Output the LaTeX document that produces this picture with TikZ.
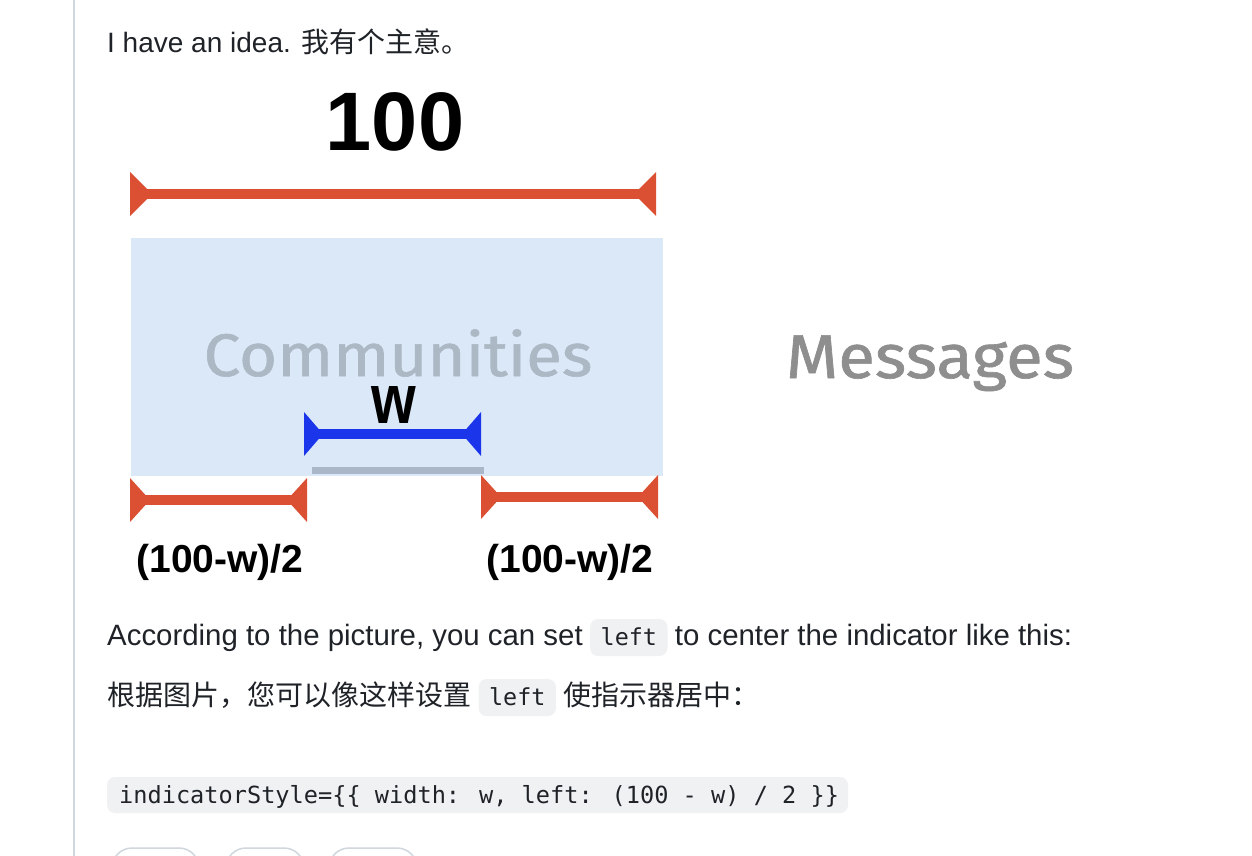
\documentclass[tikz,border=0pt]{standalone}
\usepackage{graphicx}
\usepackage{fontspec}
\setmainfont{Liberation Sans}
\newfontfamily\cjk{Noto Sans CJK SC}
\newfontfamily\codefont{DejaVu Sans Mono}
\newfontfamily\tabfont{Fira Sans}[FakeBold=1.0]
\definecolor{redc}{HTML}{DB4F33}
\definecolor{bluec}{HTML}{1A35EA}
\definecolor{boxc}{HTML}{DAE8F8}
\definecolor{grayline}{HTML}{AAB7C8}
\definecolor{commc}{HTML}{ADB8C5}
\definecolor{msgc}{HTML}{8E8E8E}
\definecolor{textc}{HTML}{1F2328}
\definecolor{codebg}{HTML}{EFF1F3}
\definecolor{vline}{HTML}{D0D7DE}
\tikzset{
  bodytext/.style={inner sep=0pt, anchor=base west, text=textc, font=\fontsize{29.4}{34}\selectfont},
  cjktext/.style={bodytext, font=\cjk\fontsize{28}{34}\selectfont},
  codebox/.style={fill=codebg, rounded corners=8pt, inner ysep=0pt, inner xsep=10.5pt,
     text height=26pt, text depth=11pt, anchor=base west, text=textc, font=\codefont\fontsize{23.4}{28}\selectfont},
  tablabel/.style={inner sep=0pt, anchor=base, font=\tabfont\fontsize{60}{66}\selectfont},
  redbar/.style={draw=redc, line width=10pt},
  bluebar/.style={draw=bluec, line width=10pt},
  redtip/.style={fill=redc},
  bluetip/.style={fill=bluec},
  dimlabel/.style={inner sep=0pt, anchor=base, text=black, font=\bfseries\fontsize{39}{44}\selectfont},
}
\begin{document}
\begin{tikzpicture}[x=1pt,y=-1pt]
\clip (0,0) rectangle (1252,856);
\fill[white] (0,0) rectangle (1252,856);
% left rule
\draw[vline, line width=2pt] (74,0) -- (74,856);
% first line
\node[bodytext, font=\fontsize{28}{34}\selectfont] (l0) at (107,53) {I have an idea. {\cjk 我有个主意。}};
% top dimension
\node[dimlabel, font=\bfseries\fontsize{83}{90}\selectfont] (hundred) at (395,150) {100};
\coordinate (t1) at (130,194);
\coordinate (t2) at (656,194);
\draw[redbar] (t1) -- (t2);
\fill[redtip] (t1) ++(0,-22) -- ++(0,44) -- ++(22,-22) -- cycle;
\fill[redtip] (t2) ++(0,-22) -- ++(0,44) -- ++(-22,-22) -- cycle;
% tab box
\fill[boxc] (131,238) rectangle (663,476);
\node[tablabel, text=commc, text depth=0pt] (comm) at (398,376) {\scalebox{1.09}[1]{Communities}};
\node[tablabel, text=msgc] (msg) at (930,378) {\scalebox{1.12}[1.03]{Messages}};
% indicator
\fill[grayline] (312,467) rectangle (484,474);
\node[dimlabel, font=\bfseries\fontsize{70}{80}\selectfont, text height=36pt, text depth=0pt] (wlab) at (394,423) {\scalebox{0.82}[1]{w}};
\coordinate (b1) at (304,434);
\coordinate (b2) at (481,434);
\draw[bluebar] (b1) -- (b2);
\fill[bluetip] (b1) ++(0,-22) -- ++(0,44) -- ++(19,-22) -- cycle;
\fill[bluetip] (b2) ++(0,-22) -- ++(0,44) -- ++(-19,-22) -- cycle;
% bottom left
\coordinate (l1) at (130,500);
\coordinate (l2) at (307,500);
\draw[redbar] (l1) -- (l2);
\fill[redtip] (l1) ++(0,-22) -- ++(0,44) -- ++(20,-22) -- cycle;
\fill[redtip] (l2) ++(0,-22) -- ++(0,44) -- ++(-20,-22) -- cycle;
% bottom right
\coordinate (r1) at (481,497);
\coordinate (r2) at (658,497);
\draw[redbar] (r1) -- (r2);
\fill[redtip] (r1) ++(0,-22) -- ++(0,44) -- ++(20,-22) -- cycle;
\fill[redtip] (r2) ++(0,-22) -- ++(0,44) -- ++(-20,-22) -- cycle;
\node[dimlabel] (lablL) at (220,572) {(100-w)/2};
\node[dimlabel] (lablR) at (570,572) {(100-w)/2};
% text lines
\node[bodytext] (s1a) at (107,645) {According to the picture, you can set};
\node[codebox] (c1) at ([xshift=7pt]s1a.base east) {left};
\node[bodytext] (s1b) at ([xshift=7pt]c1.base east) {to center the indicator like this:};
\node[cjktext] (s2a) at (107,705) {根据图片，您可以像这样设置};
\node[codebox] (c2) at ([xshift=7pt]s2a.base east) {left};
\node[cjktext] (s2b) at ([xshift=7pt]c2.base east) {使指示器居中：};
% code block
\fill[codebg, rounded corners=8pt] (107,777) rectangle (848,813);
\node[inner sep=0pt, anchor=base west, text=textc, font=\codefont\fontsize{23.6}{28}\selectfont] (code) at (119,803) {indicatorStyle=\{\{ width: w, left: (100 - w) / 2 \}\}};
% bottom pills
\draw[vline, line width=1.5pt, rounded corners=20pt] (112,848) rectangle (199,900);
\draw[vline, line width=1.5pt, rounded corners=20pt] (226,848) rectangle (304,900);
\draw[vline, line width=1.5pt, rounded corners=20pt] (329,848) rectangle (417,900);
\end{tikzpicture}
\end{document}
